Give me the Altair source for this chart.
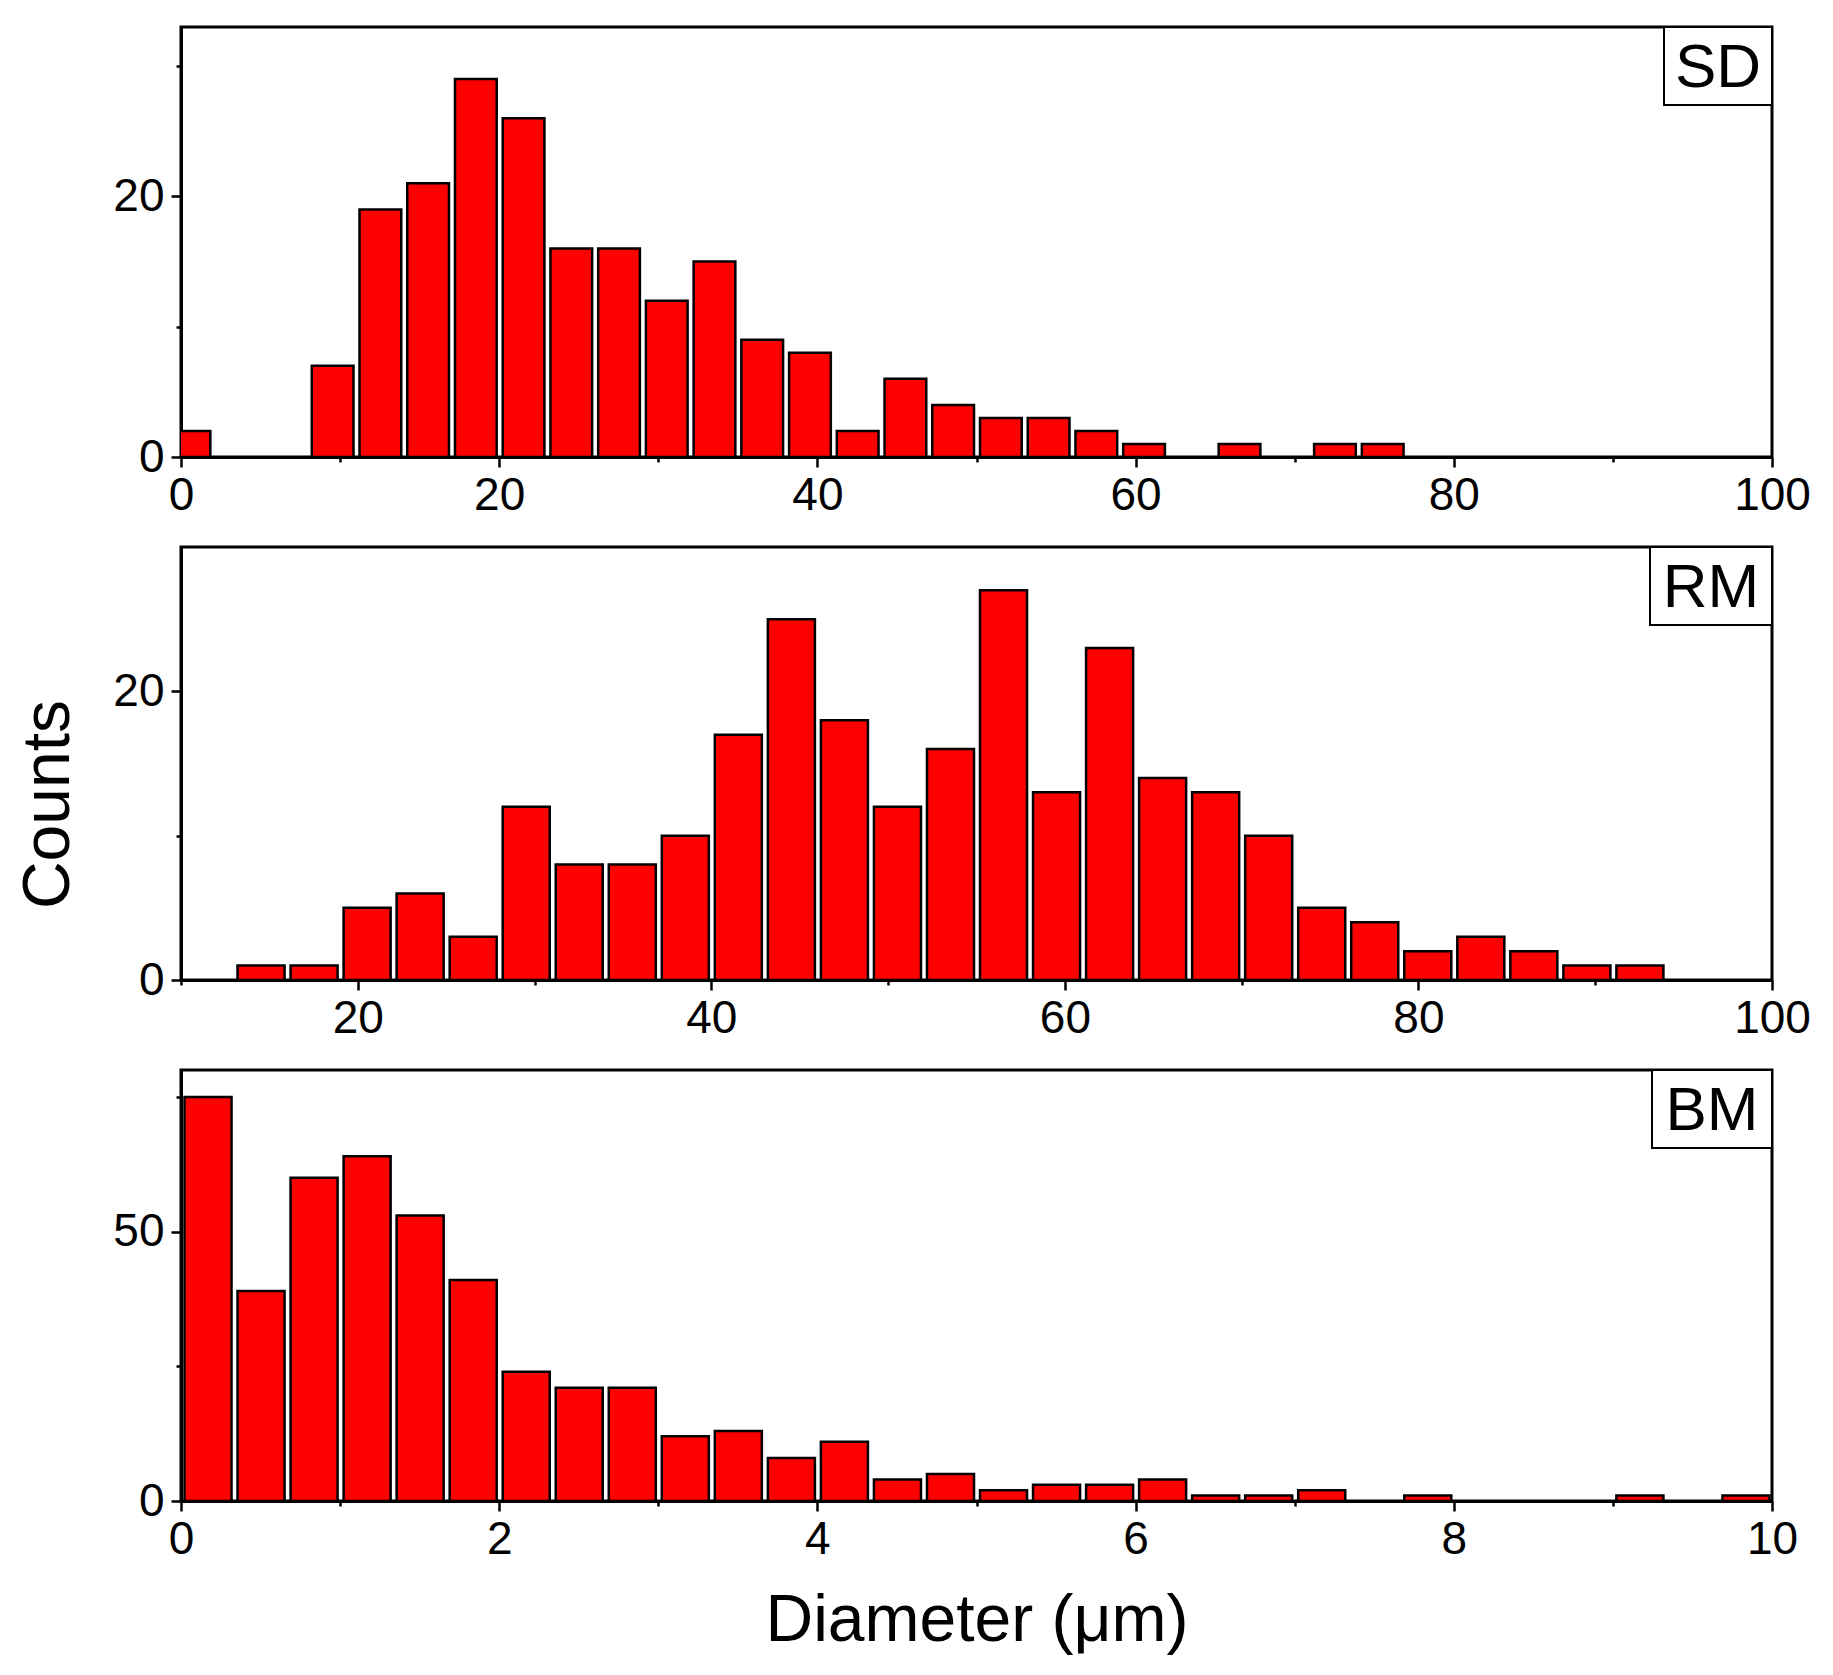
import altair as alt
import pandas as pd

# ---------------- data ----------------
panel_labels = ["SD", "RM", "BM"]

# SD: bins of width 3 (left edges)
sd_starts = [-1, 8, 11, 14, 17, 20, 23, 26, 29, 32, 35, 38, 41, 44, 47, 50, 53, 56, 59, 65, 71, 74]
sd_counts = [2, 7, 19, 21, 29, 26, 16, 16, 12, 15, 9, 8, 2, 6, 4, 3, 3, 2, 1, 1, 1, 1]

# RM: bins of width 3 (left edges)
rm_starts = [13, 16, 19, 22, 25, 28, 31, 34, 37, 40, 43, 46, 49, 52, 55, 58, 61, 64, 67, 70,
             73, 76, 79, 82, 85, 88, 91]
rm_counts = [1, 1, 5, 6, 3, 12, 8, 8, 10, 17, 25, 18, 12, 16, 27, 13, 23, 14, 13, 10,
             5, 4, 2, 3, 2, 1, 1]

# BM: bins of width 1/3 (left edges)
bm_starts = [0.0, 0.3333, 0.6667, 1.0, 1.3333, 1.6667, 2.0, 2.3333, 2.6667, 3.0, 3.3333,
             3.6667, 4.0, 4.3333, 4.6667, 5.0, 5.3333, 5.6667, 6.0, 6.3333, 6.6667, 7.0,
             7.6667, 9.0, 9.6667]
bm_counts = [75, 39, 60, 64, 53, 41, 24, 21, 21, 12, 13, 8, 11, 4, 5, 2, 3, 3, 4, 1, 1, 2,
             1, 1, 1]

x_title = "Diameter (μm)"
y_title = "Counts"

FONT = "Liberation Sans"
W = 1591
BAR_RED = "#ff0000"


def panel(starts, counts, bin_w, xdom, xvals, xmajor, ydom, yvals, ymajor,
          label, box_w, height, show_xtitle=False, show_ytitle=False):
    df = pd.DataFrame({"start": starts, "count": counts})
    df["end"] = df["start"] + bin_w

    xaxis_kw = dict(
        values=xvals,
        labelExpr=f"datum.value % {xmajor} === 0 ? datum.label : ''",
        tickSize={"condition": {"test": f"datum.value % {xmajor} === 0", "value": 10}, "value": 5},
        labelFlush=False,
        labelOverlap=False,
        labelPadding=6,
        grid=False,
    )
    if show_xtitle:
        xaxis_kw.update(title=x_title, titleY=139, titleBaseline="alphabetic")
    else:
        xaxis_kw.update(title=None)

    yaxis_kw = dict(
        values=yvals,
        labelExpr=f"datum.value % {ymajor} === 0 ? datum.label : ''",
        tickSize={"condition": {"test": f"datum.value % {ymajor} === 0", "value": 10}, "value": 5},
        labelFlush=False,
        labelOverlap=False,
        labelPadding=7,
        grid=False,
    )
    if show_ytitle:
        yaxis_kw.update(title=y_title, titleX=-113, titleY=257, titleBaseline="alphabetic",
                        titleAlign="center", titleAngle=270)
    else:
        yaxis_kw.update(title=None)

    bars = alt.Chart(df).mark_bar(
        color=BAR_RED, stroke="black", strokeWidth=2.5, binSpacing=6, clip=True
    ).encode(
        x=alt.X("start:Q", bin="binned",
                scale=alt.Scale(domain=xdom, nice=False, zero=False),
                axis=alt.Axis(**xaxis_kw)),
        x2="end:Q",
        y=alt.Y("count:Q", scale=alt.Scale(domain=ydom, nice=False),
                axis=alt.Axis(**yaxis_kw)),
    )

    lab_df = pd.DataFrame({"label": [label]})
    box_h = 78
    box = alt.Chart(lab_df).mark_rect(fill="white", stroke="black", strokeWidth=2).encode(
        x=alt.value(W - box_w), x2=alt.value(W), y=alt.value(0), y2=alt.value(box_h)
    )
    txt = alt.Chart(lab_df).mark_text(
        font=FONT, fontSize=62, align="center", baseline="middle", color="black"
    ).encode(
        x=alt.value(W - box_w / 2), y=alt.value(box_h / 2 + 2), text="label:N"
    )
    return alt.layer(bars, box, txt).properties(width=W, height=height)


top = panel(sd_starts, sd_counts, 3, [0, 100], list(range(0, 101, 10)), 20,
            [0, 33], [0, 10, 20, 30], 20, panel_labels[0], 108, 430)
mid = panel(rm_starts, rm_counts, 3, [10, 100], list(range(10, 101, 10)), 20,
            [0, 30], [0, 10, 20], 20, panel_labels[1], 122, 433, show_ytitle=True)
bot = panel(bm_starts, bm_counts, 1 / 3, [0, 10], list(range(0, 11, 1)), 2,
            [0, 80], [0, 25, 50, 75], 50, panel_labels[2], 120, 431, show_xtitle=True)

chart = alt.vconcat(top, mid, bot, spacing=24).properties(
    padding={"left": 5, "top": 16, "right": 5, "bottom": 5},
    background="white",
).configure_view(
    stroke="black", strokeWidth=3
).configure_axis(
    domainColor="black", domainWidth=3, tickColor="black", tickWidth=2.5,
    labelFont=FONT, labelFontSize=46, labelColor="black",
    titleFont=FONT, titleFontSize=66, titleFontWeight="normal", titleColor="black",
)

chart.save("out.html", embed_options={"renderer": "svg", "actions": False})
